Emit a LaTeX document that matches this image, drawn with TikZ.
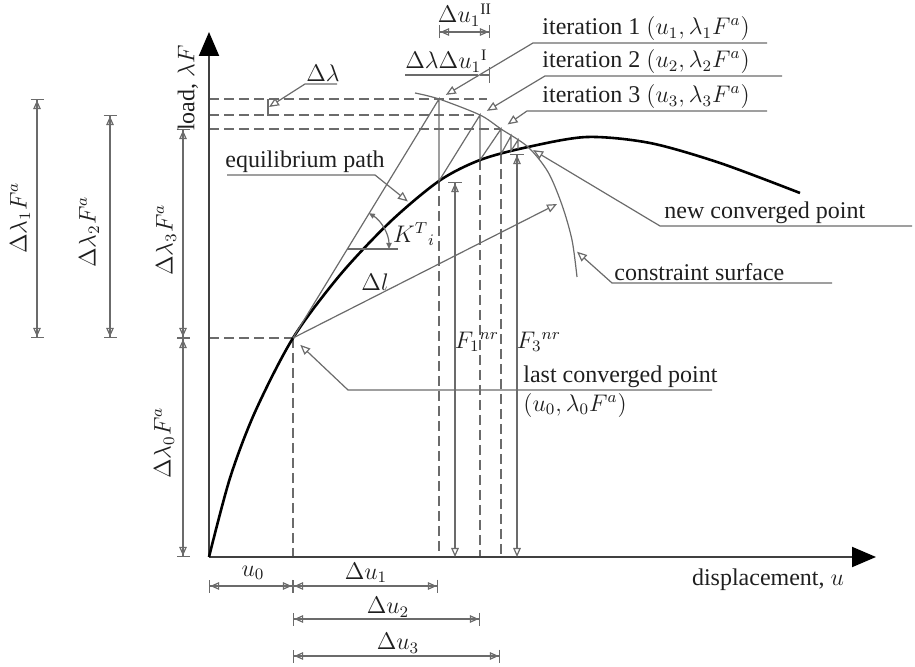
\documentclass[tikz,border=0pt]{standalone}
\usepackage{amsmath}
\usepackage{amssymb}
\usepackage{fontspec}
\setmainfont{Liberation Serif}
\usetikzlibrary{arrows.meta}
\definecolor{lgray}{gray}{0.42}
\definecolor{tgray}{gray}{0.12}
\tikzset{
  thinln/.style={draw=lgray, line width=0.6pt},
  dashln/.style={draw=lgray, line width=0.65pt, dash pattern=on 5pt off 2.5pt},
  lead/.style={thinln, -{Triangle[open,length=5pt,width=4.2pt]}, shorten >=2pt},
  dimln/.style={thinln, {Bar[width=6.5pt]Triangle[open,length=4.5pt,width=3.8pt]}-{Triangle[open,length=4.5pt,width=3.8pt]Bar[width=6.5pt]}},
  fdim/.style={thinln, {Bar[width=7pt]Triangle[open,length=4.5pt,width=3.8pt]}-{Triangle[open,length=4.5pt,width=3.8pt]}},
  lbl/.style={inner sep=1pt, text=tgray},
  axis/.style={draw=black!75, line width=1pt, -{Triangle[length=12pt,width=10pt,color=black]}}
}

\begin{document}
\begin{tikzpicture}[x=0.5pt, y=-0.5pt, font=\fontsize{12}{14}\selectfont, text=tgray]
            \useasboundingbox (0,0) rectangle (915,667);

            \coordinate (O) at (209,557);
            \coordinate (ytip) at (209,32);
            \coordinate (xtip) at (876,557);
            \coordinate (P0) at (293,338);
            \coordinate (I1) at (439,99);
            \coordinate (C1) at (439,181);
            \coordinate (I2) at (480,115);
            \coordinate (C2) at (480,160);
            \coordinate (I3) at (501,129);
            \coordinate (C3) at (501,154);
            \coordinate (I4) at (511,136);
            \coordinate (C4) at (511,151);
            \coordinate (I5) at (518,140);
            \coordinate (C5) at (518,149);
            \coordinate (Pn) at (528,147);
            \coordinate (top1) at (487,99);
            \coordinate (L) at (557,204);
            \coordinate (K0) at (347,249);
            \coordinate (Kh) at (398,249);

            \draw[dashln] (O |- I1) -- (top1);
            \draw[dashln] (O |- I2) -- (I2);
            \draw[dashln] (O |- I3) -- (I3);
            \draw[dashln] (O |- P0) -- (P0);
            \draw[dashln] (P0) -- (P0 |- O);
            \draw[dashln] (C1) -- (C1 |- O);
            \draw[dashln] (C2) -- (C2 |- O);
            \draw[dashln] (C3) -- (C3 |- O);

            \draw[axis] (O) -- (ytip);
            \draw[axis] (O) -- (xtip);

            \draw[line width=1.3pt] plot[smooth] coordinates {(O) (230,478) (255,412) (P0) (340,275) (390,222) (C1) (C2) (Pn) (587,137) (650,143) (720,163) (800,193)};
            \draw[thinln] plot[smooth] coordinates {(415,93) (I1) (I2) (I3) (Pn) (548,172) (562,205) (572,240) (577,277)};

            \draw[thinln] (P0) -- (I1) -- (C1) -- (I2) -- (C2) -- (I3) -- (C3) -- (I4) -- (C4) -- (I5) -- (C5);
            \draw[lead, shorten >=0pt] (P0) -- (L);
            \node[lbl] (dl) at (375,282) {$\Delta l$};

            \draw[thinln] (K0) -- (Kh);
            \draw[thinln, {Triangle[length=3pt,width=2.6pt]}-{Triangle[length=3pt,width=2.6pt]}] ([shift={(-58.6:42)}]K0) arc[start angle=-58.6, end angle=0, radius=42];
            \node[lbl] (kt) at (414,234) {$K^{T}{}_{i}$};

            \node[lbl, anchor=south west] (eqp) at (223,175) {equilibrium path};
            \coordinate (eqa) at (227,175); \coordinate (eqb) at (375,175); \coordinate (eqt) at (411,204);
            \draw[lead] (eqa) -- (eqb) -- (eqt);

            \node[lbl, anchor=south west] (it1) at (540,43) {iteration 1 $(u_1, \lambda_1 F^a)$};
            \coordinate (it1a) at (533,43); \coordinate (it1b) at (767,43);
            \draw[lead, shorten >=4pt] (it1b) -- (it1a) -- (I1);
            \node[lbl, anchor=south west] (it2) at (540,76) {iteration 2 $(u_2, \lambda_2 F^a)$};
            \coordinate (it2a) at (545,76); \coordinate (it2b) at (782,76);
            \draw[lead, shorten >=4pt] (it2b) -- (it2a) -- (I2);
            \node[lbl, anchor=south west] (it3) at (540,111) {iteration 3 $(u_3, \lambda_3 F^a)$};
            \coordinate (it3a) at (527,111); \coordinate (it3b) at (767,111);
            \draw[lead, shorten >=4pt] (it3b) -- (it3a) -- (I3);

            \node[lbl, anchor=south west] (ncp) at (662,226) {new converged point};
            \coordinate (ncpa) at (660,226); \coordinate (ncpb) at (912,226);
            \draw[lead, shorten >=3pt] (ncpb) -- (ncpa) -- (Pn);
            \node[lbl, anchor=south west] (csf) at (612,283) {constraint surface};
            \coordinate (csfa) at (612,283); \coordinate (csfb) at (832,283); \coordinate (csft) at (574,249);
            \draw[lead] (csfb) -- (csfa) -- (csft);
            \node[lbl, anchor=south west] (lcp) at (521,390) {last converged point};
            \node[lbl, anchor=north west] (lcp0) at (521,391) {$(u_0, \lambda_0 F^a)$};
            \coordinate (lcpa) at (348,390); \coordinate (lcpb) at (712,390);
            \draw[lead, shorten >=5pt] (lcpb) -- (lcpa) -- (P0);

            \node[lbl, anchor=south west] (dlam) at (304,84) {$\Delta\lambda$};
            \coordinate (dlama) at (305,84); \coordinate (dlamb) at (337,84); \coordinate (dlamt) at (269,107);
            \draw[lead, shorten >=0pt] (dlamb) -- (dlama) -- (dlamt);
            \coordinate (dlt1) at (268,99); \coordinate (dlt2) at (268,116);
            \draw[thinln] (dlt1) -- (dlt2);

            \node[lbl, anchor=south west] (dlu) at (403,75) {$\Delta\lambda\Delta u_1{}^{\mathrm{I}}$};
            \coordinate (dlua) at (405,75); \coordinate (dlub) at (478,75);
            \coordinate (dux1) at (480,75); \coordinate (dux2) at (490,75);
            \draw[thinln] (dlua) -- (dlub);
            \draw[thinln, -{Bar[width=8pt]}] (dux1) -- (dux2);
            \node[lbl] (du2) at (465,15) {$\Delta u_1{}^{\mathrm{II}}$};
            \coordinate (dua) at (439,32); \coordinate (dub) at (490,32);
            \draw[dimln] (dua) -- (dub);

            \coordinate (F1t) at (455,182); \coordinate (F3t) at (517,154);
            \draw[fdim] (F1t) -- (F1t |- O);
            \draw[fdim] (F3t) -- (F3t |- O);
            \node[lbl] (f1) at (477,342) {$F_1{}^{nr}$};
            \node[lbl] (f3) at (539,342) {$F_3{}^{nr}$};

            \coordinate (a1) at (37,99); \coordinate (b1) at (37,338);
            \coordinate (a2) at (110,115); \coordinate (b2) at (110,338);
            \coordinate (a3) at (183,129); \coordinate (b3) at (183,338);
            \coordinate (b0) at (183,557);
            \draw[dimln] (a1) -- (b1); \draw[dimln] (a2) -- (b2);
            \draw[dimln] (a3) -- (b3); \draw[dimln] (b3) -- (b0);
            \node[lbl, rotate=90] (l1) at (20,218) {$\Delta\lambda_1 F^a$};
            \node[lbl, rotate=90] (l2) at (89,232) {$\Delta\lambda_2 F^a$};
            \node[lbl, rotate=90] (l3) at (166,240) {$\Delta\lambda_3 F^a$};
            \node[lbl, rotate=90] (l0) at (164,443) {$\Delta\lambda_0 F^a$};
            \node[lbl, rotate=90] (yl) at (188,88) {load, $\lambda F$};

            \coordinate (u0a) at (209,586); \coordinate (u0b) at (293,586);
            \coordinate (u1b) at (438,586);
            \coordinate (u2a) at (293,619); \coordinate (u2b) at (480,619);
            \coordinate (u3a) at (293,656); \coordinate (u3b) at (500,656);
            \draw[dimln] (u0a) -- (u0b); \draw[dimln] (u0b) -- (u1b);
            \draw[dimln] (u2a) -- (u2b); \draw[dimln] (u3a) -- (u3b);
            \node[lbl] (lu0) at (253,573) {$u_0$};
            \node[lbl] (lu1) at (366,573) {$\Delta u_1$};
            \node[lbl] (lu2) at (388,607) {$\Delta u_2$};
            \node[lbl] (lu3) at (398,643) {$\Delta u_3$};
            \node[lbl] (xl) at (768,580) {displacement, $u$};
        \end{tikzpicture}
\end{document}
